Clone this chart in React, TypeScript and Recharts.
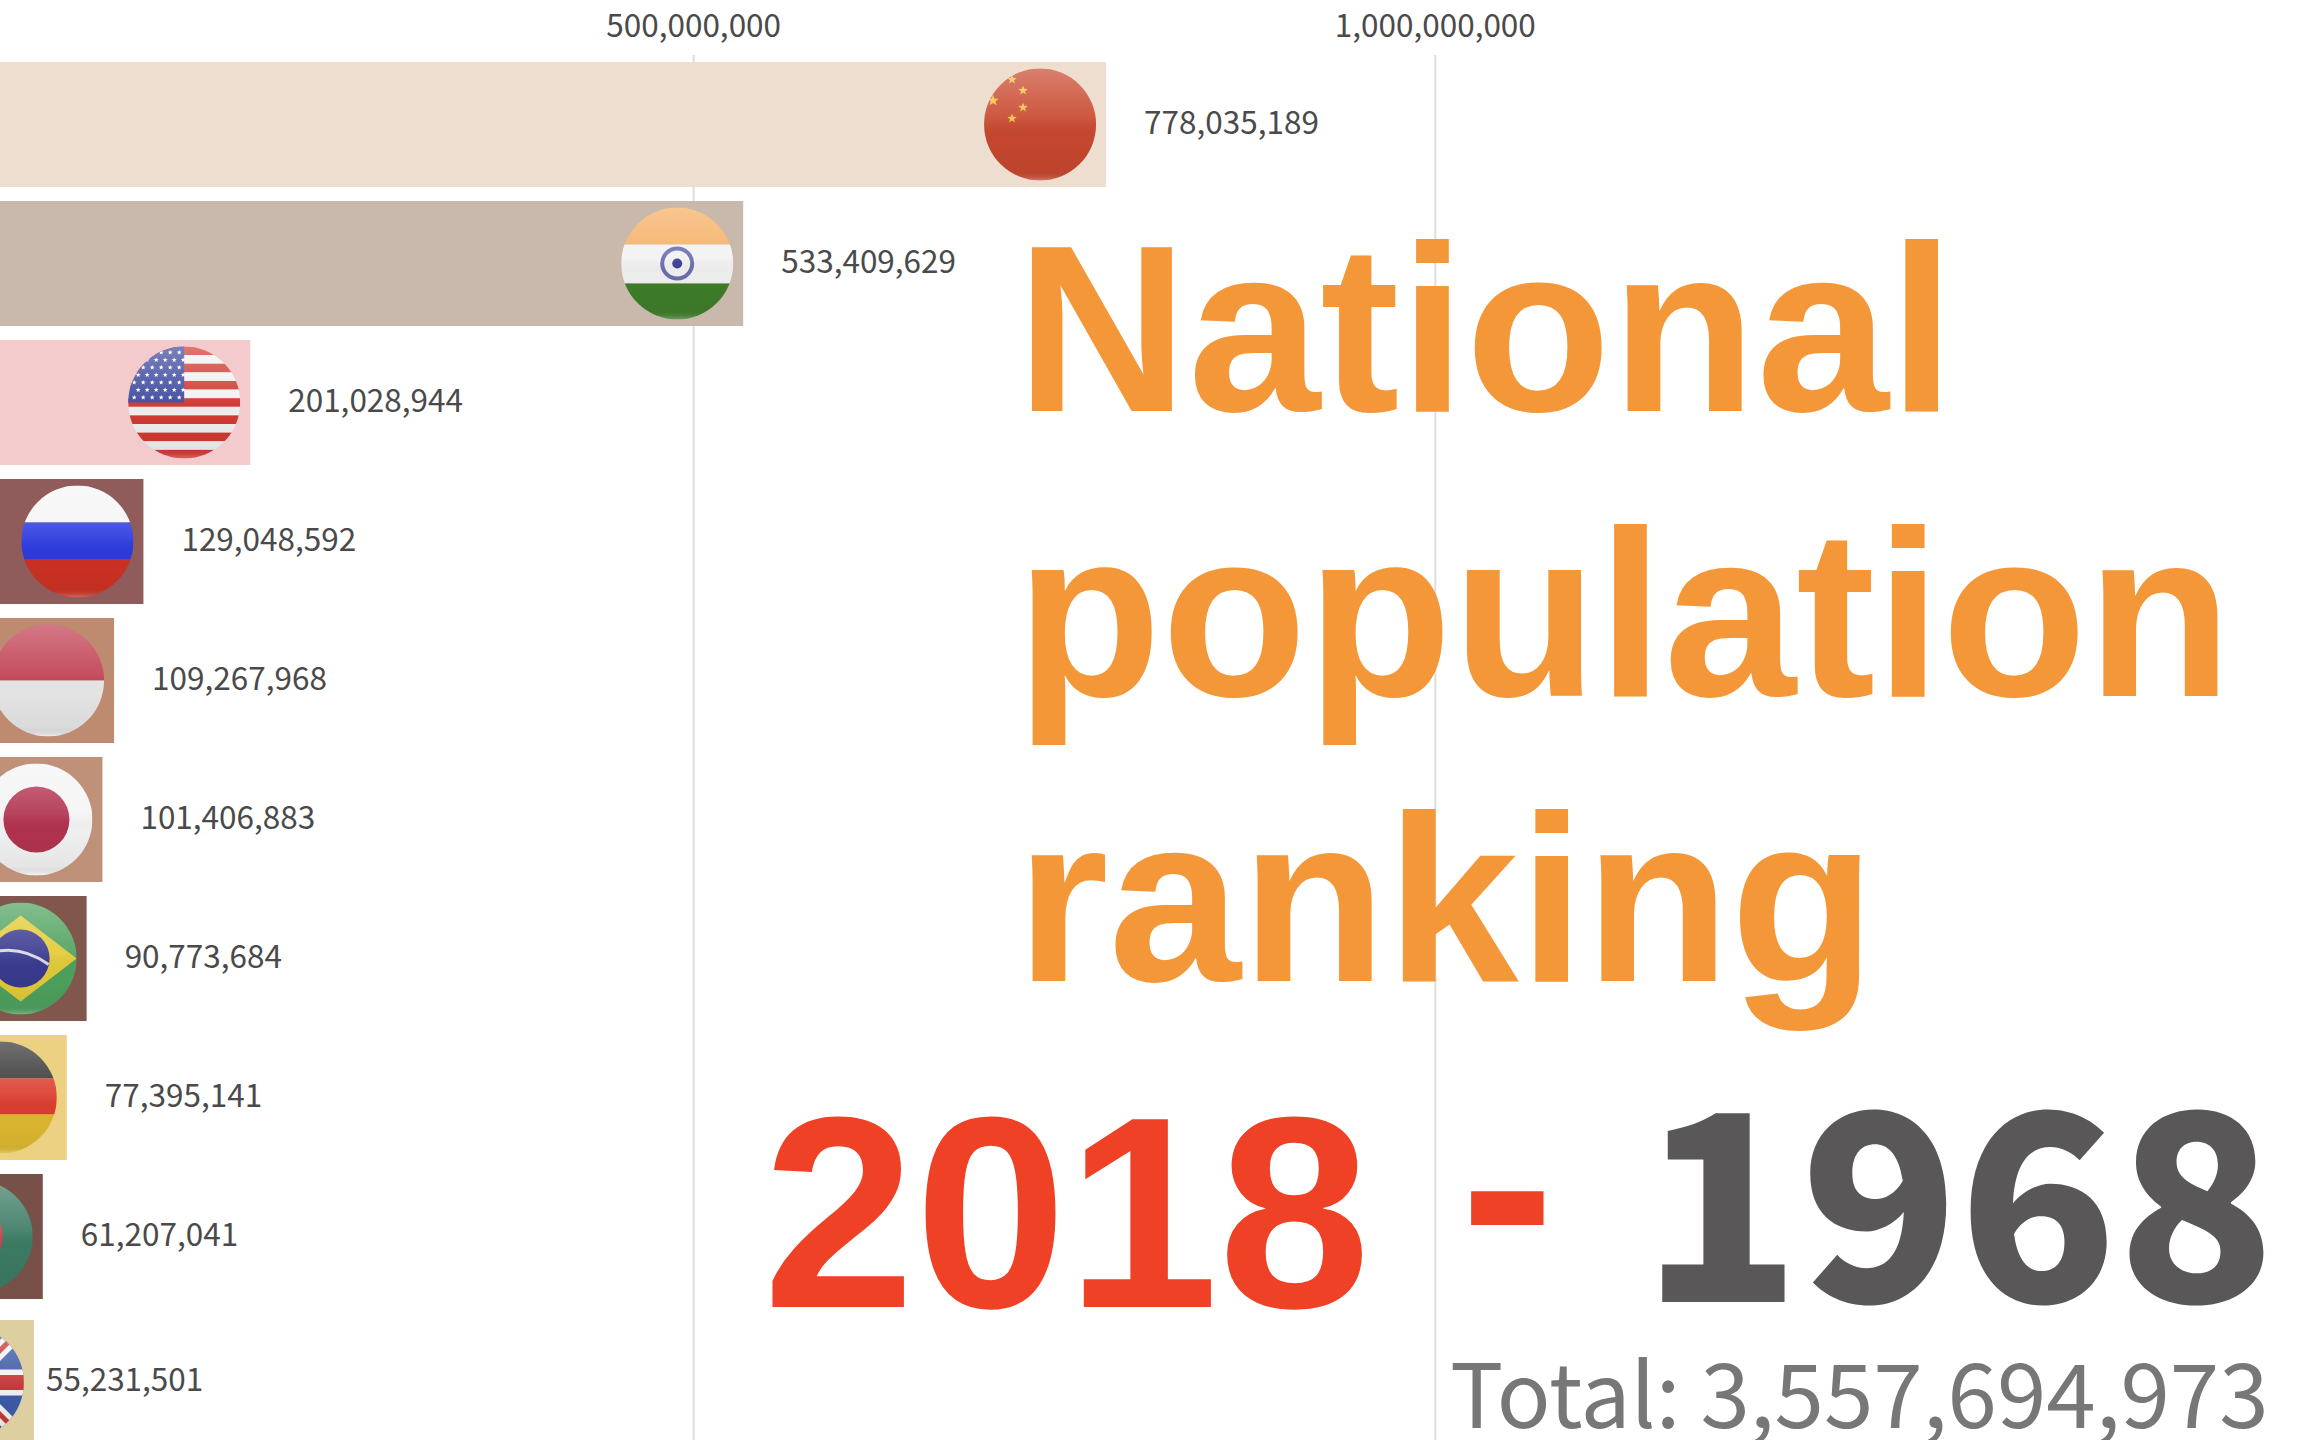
import { Bar, BarChart, CartesianGrid, LabelList, XAxis, YAxis } from "recharts";

const countries = ["China", "India", "USA", "Russia", "Indonesia", "Japan", "Brazil", "Germany", "Bangladesh", "UK"];
const populations = [778035189, 533409629, 201028944, 129048592, 109267968, 101406883, 90773684, 77395141, 61207041, 55231501];
// row positions, the last bar is still sliding in the racing animation
const rows = [1, 2, 3, 4, 5, 6, 7, 8, 9, 10.05];
const barColors = ["#EDDDCD", "#C7B6A9", "#F4C9CA", "#8B5454", "#BB866B", "#BC8C72", "#7C4F46", "#ECCF7E", "#714A40", "#DCCD9C"];
const axisTicks = [500000000, 1000000000];
const titleLines = ["National", "population", "ranking"];
const yearFrom = "2018";
const yearTo = "1968";
const totalLabel = "Total: 3,557,694,973";

const data = countries.map((name, i) => ({
  name,
  value: populations[i],
  row: rows[i],
  color: barColors[i],
}));

const R = 56;
const fmt = (v: number) => v.toLocaleString("en-US");

function star(cx: number, cy: number, r: number, fill: string) {
  const pts: string[] = [];
  for (let i = 0; i < 10; i++) {
    const a = (Math.PI / 5) * i - Math.PI / 2;
    const rad = i % 2 === 0 ? r : r * 0.42;
    pts.push(`${cx + rad * Math.cos(a)},${cy + rad * Math.sin(a)}`);
  }
  return <polygon key={`${cx}-${cy}`} points={pts.join(" ")} fill={fill} />;
}

function stripe(y0: number, y1: number, fill: string) {
  return <rect key={y0} x={-R} y={y0} width={R * 2} height={y1 - y0} fill={fill} />;
}

function FlagArt({ name }: { name: string }) {
  switch (name) {
    case "China":
      return (
        <g>
          {stripe(-R, R, "#C9482F")}
          {star(-28, -45, 5, "#EFC23F")}
          {star(-17, -34, 5, "#EFC23F")}
          {star(-17, -17, 5, "#EFC23F")}
          {star(-28, -6, 5, "#EFC23F")}
          {star(-47, -24, 6, "#EFC23F")}
        </g>
      );
    case "India":
      return (
        <g>
          {stripe(-R, -19, "#F5AE63")}
          {stripe(-19, 20, "#F2F2F2")}
          {stripe(20, R, "#3F7F2A")}
          <circle r={15} fill="none" stroke="#6A6FB0" strokeWidth={4} />
          <circle r={5} fill="#3A4098" />
        </g>
      );
    case "USA": {
      const bands = [];
      for (let i = 0; i < 13; i++) {
        bands.push(stripe(-R + (i * 2 * R) / 13, -R + ((i + 1) * 2 * R) / 13, i % 2 === 0 ? "#D23A32" : "#F2F2F2"));
      }
      const stars = [];
      for (let r = 0; r < 7; r++) {
        for (let c = 0; c < 6; c++) {
          stars.push(star(-50 + c * 9 + (r % 2) * 4, -50 + r * 7.5, 2.6, "#FFFFFF"));
        }
      }
      return (
        <g>
          {bands}
          <rect x={-R} y={-R} width={R} height={R} fill="#3F4A9E" />
          {stars}
        </g>
      );
    }
    case "Russia":
      return (
        <g>
          {stripe(-R, -19, "#F5F5F5")}
          {stripe(-19, 18, "#2D3BE0")}
          {stripe(18, R, "#CF3224")}
        </g>
      );
    case "Indonesia":
      return (
        <g>
          {stripe(-R, 0, "#C23F52")}
          {stripe(0, R, "#E8E8E8")}
        </g>
      );
    case "Japan":
      return (
        <g>
          {stripe(-R, R, "#F4F4F4")}
          <circle r={33} fill="#B23350" />
        </g>
      );
    case "Brazil":
      return (
        <g>
          {stripe(-R, R, "#4FA25F")}
          <polygon points={`${-R},0 0,-43 ${R},0 0,43`} fill="#E3CB38" />
          <circle r={29} fill="#3A3A90" />
          <path d="M -29 -6 Q 0 -14 28 6" fill="none" stroke="#D8D8E8" strokeWidth={3} />
        </g>
      );
    case "Germany":
      return (
        <g>
          {stripe(-R, -19, "#333333")}
          {stripe(-19, 17, "#DD3F30")}
          {stripe(17, R, "#E0BB30")}
        </g>
      );
    case "Bangladesh":
      return (
        <g>
          {stripe(-R, R, "#3C7C64")}
          <circle cx={-8} r={34} fill="#C8464E" />
        </g>
      );
    default:
      return (
        <g>
          {stripe(-R, R, "#3F5BA8")}
          <path d={`M ${-R} ${-R} L ${R} ${R} M ${-R} ${R} L ${R} ${-R}`} stroke="#F2F2F2" strokeWidth={15} />
          <path d={`M ${-R} ${-R} L ${R} ${R} M ${-R} ${R} L ${R} ${-R}`} stroke="#C9383A" strokeWidth={5} />
          <path d={`M 0 ${-R} V ${R} M ${-R} 0 H ${R}`} stroke="#F2F2F2" strokeWidth={26} />
          <path d={`M 0 ${-R} V ${R} M ${-R} 0 H ${R}`} stroke="#C9383A" strokeWidth={15} />
        </g>
      );
  }
}

function FlagBar(props: any) {
  const { x, y, width, height, payload, index } = props;
  const cx = x + width - 66;
  const cy = y + height / 2;
  return (
    <g>
      <rect x={x} y={y} width={width} height={height} fill={payload.color} fillOpacity={0.96} />
      <g transform={`translate(${cx},${cy})`}>
        <clipPath id={`flag-clip-${index}`}>
          <circle r={R} />
        </clipPath>
        <g clipPath={`url(#flag-clip-${index})`}>
          <FlagArt name={payload.name} />
          <rect x={-R} y={-R} width={R * 2} height={R * 2} fill="url(#gloss)" />
        </g>
      </g>
    </g>
  );
}

function ValueLabel(props: any) {
  const { x, y, width, height, value, index } = props;
  // the last label has not caught up with its bar yet
  const gap = index === countries.length - 1 ? 12 : 38;
  return (
    <text
      x={x + width + gap}
      y={y + height / 2 + 9}
      fontSize={31.5}
      fill="#4a4a4a"
      fontFamily="'Noto Sans CJK SC', 'Noto Sans', sans-serif"
    >
      {fmt(value)}
    </text>
  );
}

export default function App() {
  return (
    <div style={{ position: "absolute", left: 0, top: 0, width: 2306, height: 1440, overflow: "hidden", background: "#fff" }}>
      <div style={{ position: "absolute", left: -48, top: 0 }}>
        <BarChart
          width={2360}
          height={1440}
          data={data}
          layout="vertical"
          margin={{ top: 0, right: 0, bottom: 0, left: 0 }}
        >
          <defs>
            <linearGradient id="gloss" x1="0" y1="0" x2="0" y2="1">
              <stop offset="0%" stopColor="#ffffff" stopOpacity={0.3} />
              <stop offset="45%" stopColor="#ffffff" stopOpacity={0.08} />
              <stop offset="60%" stopColor="#000000" stopOpacity={0.02} />
              <stop offset="92%" stopColor="#000000" stopOpacity={0.06} />
              <stop offset="100%" stopColor="#ffffff" stopOpacity={0.25} />
            </linearGradient>
          </defs>
          <CartesianGrid horizontal={false} stroke="#DEDEDE" strokeWidth={2} />
          <XAxis
            type="number"
            orientation="top"
            height={55}
            domain={[0, 1591050000]}
            ticks={axisTicks}
            tickFormatter={fmt}
            axisLine={false}
            tickLine={false}
            tick={{ fontSize: 31.5, fill: "#4a4a4a", fontFamily: "'Noto Sans CJK SC', 'Noto Sans', sans-serif" }}
            tickMargin={12}
          />
          <YAxis type="number" dataKey="row" domain={[0.5, 10.464]} ticks={rows} hide />
          <Bar dataKey="value" barSize={125} shape={FlagBar} isAnimationActive={false}>
            <LabelList dataKey="value" content={ValueLabel} />
          </Bar>
        </BarChart>
      </div>
      <svg width={2306} height={1440} style={{ position: "absolute", left: 0, top: 0 }}>
        <g fontFamily="'Liberation Sans', Arial, sans-serif" fontWeight={700} fill="#F39738" fontSize={238}>
          {titleLines.map((line, i) => (
            <text key={line} x={1016} y={411 + i * 285}>
              {line}
            </text>
          ))}
        </g>
        <text x={763} y={1307} fontFamily="'Liberation Sans', Arial, sans-serif" fontWeight={700} fontSize={273} fill="#EE4125">
          {yearFrom}
        </text>
        <text x={1460} y={1282} fontFamily="'Liberation Sans', Arial, sans-serif" fontWeight={700} fontSize={285} fill="#EE4125">
          -
        </text>
        <text x={1642} y={1302} fontFamily="'Noto Sans CJK SC', sans-serif" fontWeight={900} fontSize={260} fill="#595757">
          {yearTo}
        </text>
        <text x={1450} y={1428} fontFamily="'Noto Sans CJK SC', sans-serif" fontSize={89} fill="#777777">
          {totalLabel}
        </text>
      </svg>
    </div>
  );
}
